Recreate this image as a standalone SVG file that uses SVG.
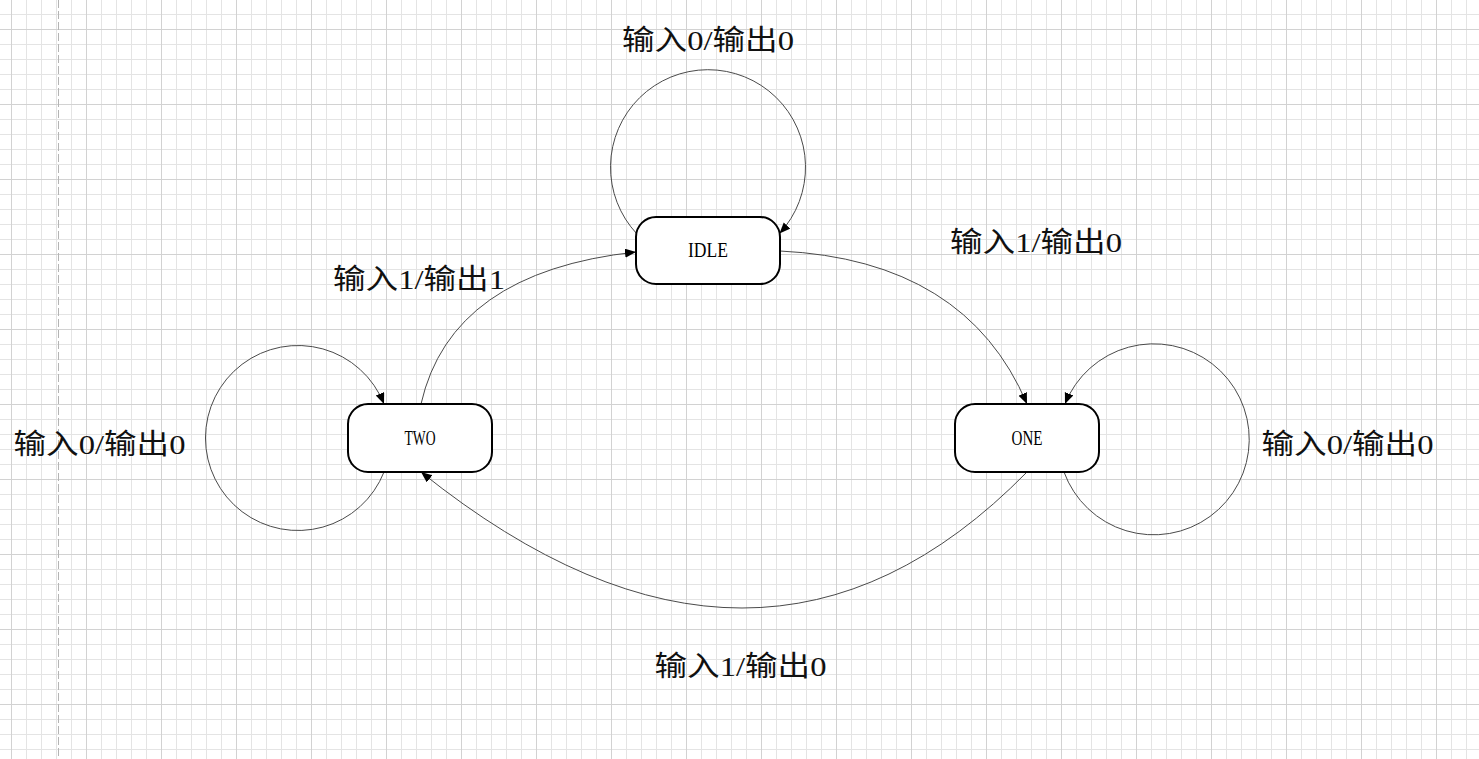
<svg xmlns="http://www.w3.org/2000/svg" width="1479" height="759" viewBox="0 0 1479 759">
  <style>
    .node rect { fill: #ffffff; stroke: #000000; stroke-width: 2; }
    .node text { font-family: "Liberation Serif", serif; font-size: 20px; fill: #000; text-anchor: middle; }
    .edge { fill: none; stroke: #4a4a4a; stroke-width: 1; marker-end: url(#arrow); }
    .label { font-family: "Liberation Serif", "Noto Sans CJK SC", serif; font-size: 28px; fill: #111; text-anchor: middle; }
  </style>
  <defs>
    <pattern id="minor" x="11" y="14" width="15" height="15" patternUnits="userSpaceOnUse">
      <path d="M0.5 0 V15 M0 0.5 H15" fill="none" stroke="#e4e4e4" stroke-width="1"/>
    </pattern>
    <pattern id="major" x="11" y="29" width="75" height="75" patternUnits="userSpaceOnUse">
      <path d="M0.5 0 V75 M0 0.5 H75" fill="none" stroke="#d2d2d2" stroke-width="1"/>
    </pattern>
    <marker id="arrow" markerUnits="userSpaceOnUse" markerWidth="12" markerHeight="10" refX="11" refY="4.5" orient="auto">
      <path d="M0 0 L11 4.5 L0 9 Z" fill="#000"/>
    </marker>
  </defs>

  <g id="background">
    <rect x="0" y="0" width="1479" height="759" fill="#ffffff"/>
    <rect x="0" y="0" width="1479" height="759" fill="url(#minor)"/>
    <rect x="0" y="0" width="1479" height="759" fill="url(#major)"/>
    <line x1="58.5" y1="0" x2="58.5" y2="759" stroke="#b4b4b4" stroke-width="1" stroke-dasharray="8 3"/>
  </g>

  <g id="connectors">
    <path class="edge" d="M637 234 A97.5 97.5 0 1 1 779.5 233.5"/>
    <path class="edge" d="M384 472 A92.5 92.5 0 1 1 384 404"/>
    <path class="edge" d="M1064 472 A95.5 95.5 0 1 0 1065 404"/>
    <path class="edge" d="M421 404 Q451 272 636 252"/>
    <path class="edge" d="M780 251 Q966 260 1027 404"/>
    <path class="edge" d="M1027 472 Q760 744 421 472"/>
  </g>

  <g id="labels">
    <text class="label" x="708" y="50" textLength="172" lengthAdjust="spacingAndGlyphs">输入0/输出0</text>
    <text class="label" x="1036" y="252" textLength="172" lengthAdjust="spacingAndGlyphs">输入1/输出0</text>
    <text class="label" x="419" y="289" textLength="172" lengthAdjust="spacingAndGlyphs">输入1/输出1</text>
    <text class="label" x="99.5" y="454" textLength="172" lengthAdjust="spacingAndGlyphs">输入0/输出0</text>
    <text class="label" x="1347.5" y="454" textLength="172" lengthAdjust="spacingAndGlyphs">输入0/输出0</text>
    <text class="label" x="740.5" y="676" textLength="172" lengthAdjust="spacingAndGlyphs">输入1/输出0</text>
  </g>

  <g id="node-idle" class="node">
    <rect x="636" y="217" width="144" height="67" rx="20" ry="20"/>
    <text x="708" y="257" textLength="40" lengthAdjust="spacingAndGlyphs">IDLE</text>
  </g>
  <g id="node-two" class="node">
    <rect x="348" y="404" width="144" height="68" rx="20" ry="20"/>
    <text x="420" y="445" textLength="31" lengthAdjust="spacingAndGlyphs">TWO</text>
  </g>
  <g id="node-one" class="node">
    <rect x="955" y="404" width="144" height="68" rx="20" ry="20"/>
    <text x="1027" y="445" textLength="31" lengthAdjust="spacingAndGlyphs">ONE</text>
  </g>
</svg>
